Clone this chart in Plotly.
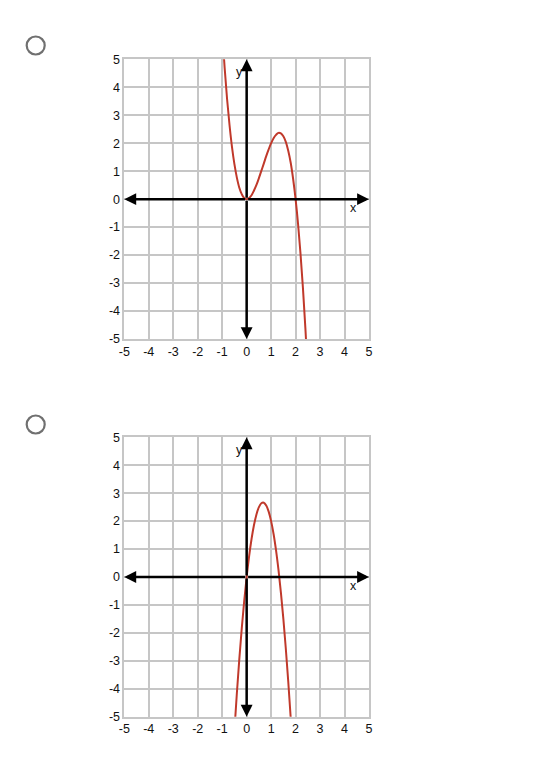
import plotly.graph_objects as go

# Curve 1 (top option)
x1 = [-1.0, -0.9, -0.8, -0.7, -0.6, -0.5, -0.4, -0.3, -0.2, -0.1, 0.0, 0.1, 0.2, 0.3, 0.4, 0.5,
      0.6, 0.7, 0.8, 0.9, 1.0, 1.1, 1.2, 1.3, 1.4, 1.5, 1.6, 1.7, 1.8, 1.9, 2.0, 2.1, 2.2, 2.3, 2.4, 2.5]
y1 = [6.00, 4.70, 3.58, 2.65, 1.87, 1.25, 0.77, 0.41, 0.18, 0.04, 0.0, 0.04, 0.14, 0.31, 0.51, 0.75,
      1.01, 1.27, 1.54, 1.78, 2.00, 2.18, 2.30, 2.37, 2.35, 2.25, 2.05, 1.73, 1.30, 0.72, 0.0, -0.88,
      -1.94, -3.17, -4.61, -6.25]

# Curve 2 (bottom option)
x2 = [-0.6, -0.5, -0.4, -0.3, -0.2, -0.1, 0.0, 0.1, 0.2, 0.3, 0.4, 0.5, 0.6, 0.7, 0.8, 0.9, 1.0,
      1.1, 1.2, 1.3, 1.4, 1.5, 1.6, 1.7, 1.8, 1.9]
y2 = [-6.96, -5.50, -4.16, -2.94, -1.84, -0.86, 0.0, 0.74, 1.36, 1.86, 2.24, 2.50, 2.64, 2.66, 2.56,
      2.34, 2.00, 1.54, 0.96, 0.26, -0.56, -1.50, -2.56, -3.74, -5.04, -6.46]

ticks = [-5, -4, -3, -2, -1, 0, 1, 2, 3, 4, 5]
tick_text = [str(t) for t in ticks]

W, H = 540, 779
CURVE = "#c0392b"
GRID = "#c6c6c6"
FONT = "Liberation Sans, Arial, sans-serif"

fig = go.Figure()
fig.add_trace(go.Scatter(x=x1, y=y1, mode="lines", line=dict(color=CURVE, width=2, shape="spline"),
                         xaxis="x", yaxis="y", showlegend=False, hoverinfo="skip"))
fig.add_trace(go.Scatter(x=x2, y=y2, mode="lines", line=dict(color=CURVE, width=2, shape="spline"),
                         xaxis="x2", yaxis="y2", showlegend=False, hoverinfo="skip"))

xdom = [124.3 / W, 369.0 / W]
ydom_top = [1 - 339.0 / H, 1 - 59.3 / H]
ydom_bot = [1 - 716.7 / H, 1 - 437.3 / H]

axis_common = dict(range=[-5, 5], tickmode="array", tickvals=ticks, ticktext=tick_text,
                   showgrid=True, gridcolor=GRID, gridwidth=1.5, zeroline=False,
                   showline=True, linecolor=GRID, linewidth=1.5, mirror=True,
                   ticks="", tickfont=dict(family=FONT, size=12.5, color="#111"),
                   fixedrange=True, automargin=False)

fig.update_layout(
    autosize=True, margin=dict(l=0, r=0, t=0, b=0, pad=0),
    paper_bgcolor="white", plot_bgcolor="white",
    xaxis=dict(domain=xdom, anchor="y", **axis_common),
    yaxis=dict(domain=ydom_top, anchor="x", **axis_common),
    xaxis2=dict(domain=xdom, anchor="y2", **axis_common),
    yaxis2=dict(domain=ydom_bot, anchor="x2", **axis_common),
)

annotations = []
for xr, yr in [("x", "y"), ("x2", "y2")]:
    for hx, hy in [(5, 0), (-5, 0), (0, 5), (0, -5)]:
        annotations.append(dict(x=hx, y=hy, ax=0, ay=0, xref=xr, yref=yr, axref=xr, ayref=yr,
                                showarrow=True, arrowhead=2, arrowsize=0.95, arrowwidth=2.5,
                                arrowcolor="black", standoff=0, text=""))
    annotations.append(dict(x=4.35, y=-0.33, xref=xr, yref=yr, text="x", showarrow=False,
                            font=dict(family=FONT, size=12.5, color="#111")))
    annotations.append(dict(x=-0.3, y=4.55, xref=xr, yref=yr, text="y", showarrow=False,
                            font=dict(family=FONT, size=12.5, color="#111")))
fig.update_layout(annotations=annotations)

# radio circles
shapes = []
for cy in [45.5, 424.5]:
    r = 9.0
    shapes.append(dict(type="circle", xref="paper", yref="paper",
                       x0=(35.7 - r) / W, x1=(35.7 + r) / W,
                       y0=1 - (cy + r) / H, y1=1 - (cy - r) / H,
                       line=dict(color="#707070", width=2.2), fillcolor="white"))
fig.update_layout(shapes=shapes)

post = ("document.documentElement.style.margin='0';document.body.style.margin='0';"
        "document.body.style.overflow='hidden';document.documentElement.style.overflow='hidden';"
        "var gd=document.getElementById('{plot_id}');gd.style.width='100vw';gd.style.height='100vh';"
        "Plotly.Plots.resize(gd);")

fig.write_html("out.html", config={"displayModeBar": False, "responsive": True},
               default_width="100vw", default_height="100vh", post_script=post)
